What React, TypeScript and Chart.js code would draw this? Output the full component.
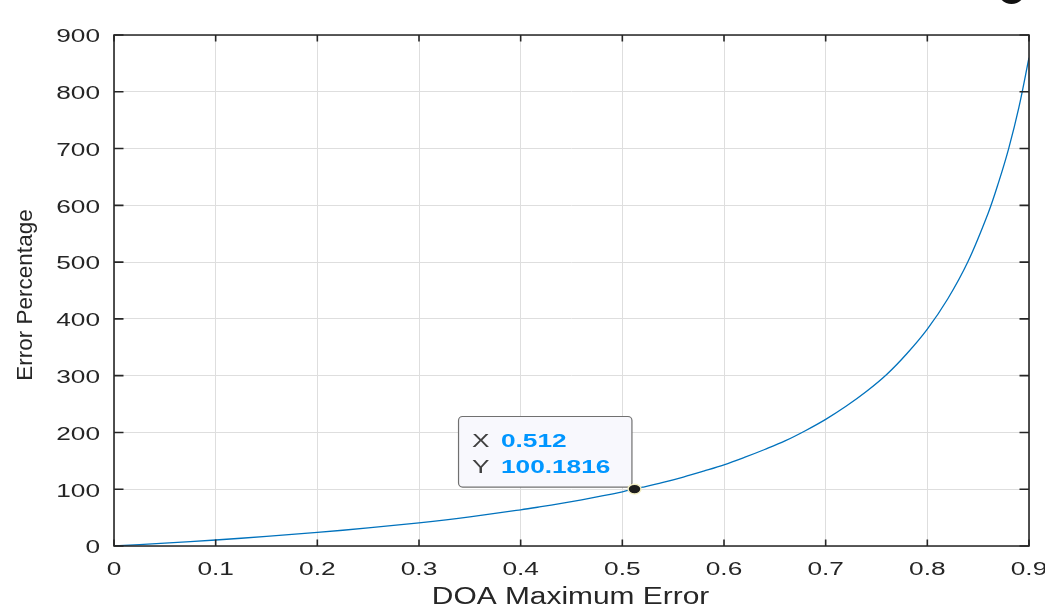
import React, { useEffect, useRef } from "react";
import { Chart, registerables } from "chart.js";

Chart.register(...registerables);

// ---- data ----
const doaError = [
  0, 0.05, 0.1, 0.15, 0.2, 0.25, 0.3, 0.35, 0.4, 0.42, 0.44, 0.46, 0.48, 0.5,
  0.52, 0.54, 0.56, 0.58, 0.6, 0.62, 0.64, 0.66, 0.68, 0.7, 0.72, 0.74, 0.76,
  0.78, 0.8, 0.82, 0.84, 0.86, 0.87, 0.88, 0.89, 0.9,
];
const errorPercentage = [
  0, 5.0, 10.6, 16.9, 23.9, 31.8, 40.9, 51.4, 63.7, 69.2, 75, 81.4, 88.2, 95.5,
  103.5, 112, 121.5, 132, 143, 156, 170, 185, 203, 223, 246, 272, 302, 339,
  382, 435, 501, 587, 640, 700, 772, 860,
];
const xTickValues = [0, 0.1, 0.2, 0.3, 0.4, 0.5, 0.6, 0.7, 0.8, 0.9];
const xTickLabels = ["0", "0.1", "0.2", "0.3", "0.4", "0.5", "0.6", "0.7", "0.8", "0.9"];
const yTickValues = [0, 100, 200, 300, 400, 500, 600, 700, 800, 900];
const yTickLabels = ["0", "100", "200", "300", "400", "500", "600", "700", "800", "900"];
const tipX = 0.512;
const tipY = 100.1816;
const tipLabelX = "0.512";
const tipLabelY = "100.1816";
const xTitle = "DOA Maximum Error";
const yTitle = "Error Percentage";

const FONT = '"Liberation Sans", Arial, Helvetica, sans-serif';
const AXIS_COLOR = "#262626";

function stretchedText(
  ctx: CanvasRenderingContext2D,
  text: string,
  x: number,
  y: number,
  sx: number,
  align: CanvasTextAlign,
  font: string,
  color: string
) {
  ctx.save();
  ctx.translate(x, y);
  ctx.scale(sx, 1);
  ctx.font = font;
  ctx.fillStyle = color;
  ctx.textAlign = align;
  ctx.textBaseline = "alphabetic";
  ctx.fillText(text, 0, 0);
  ctx.restore();
}

const decorPlugin = {
  id: "matlabDecor",
  afterDatasetsDraw(chart: any) {
    const ctx: CanvasRenderingContext2D = chart.ctx;
    const area = chart.chartArea;
    const xs = chart.scales.x;
    const ys = chart.scales.y;

    // box & inner ticks
    ctx.save();
    ctx.strokeStyle = AXIS_COLOR;
    ctx.lineWidth = 1.6;
    ctx.beginPath();
    ctx.rect(area.left, area.top, area.right - area.left, area.bottom - area.top);
    ctx.stroke();
    ctx.beginPath();
    xTickValues.forEach((v) => {
      const px = xs.getPixelForValue(v);
      ctx.moveTo(px, area.bottom);
      ctx.lineTo(px, area.bottom - 6.5);
      ctx.moveTo(px, area.top);
      ctx.lineTo(px, area.top + 6.5);
    });
    yTickValues.forEach((v) => {
      const py = ys.getPixelForValue(v);
      ctx.moveTo(area.left, py);
      ctx.lineTo(area.left + 9.5, py);
      ctx.moveTo(area.right, py);
      ctx.lineTo(area.right - 9.5, py);
    });
    ctx.stroke();
    ctx.restore();

    // data tip
    const mx = xs.getPixelForValue(tipX);
    const my = ys.getPixelForValue(tipY);
    const bw = 173.4;
    const bh = 70.6;
    const bx = mx - 2.6 - bw;
    const by = my - 2 - bh;
    ctx.save();
    ctx.beginPath();
    (ctx as any).roundRect(bx, by, bw, bh, 4);
    ctx.fillStyle = "#f8f8fd";
    ctx.fill();
    ctx.strokeStyle = "#707070";
    ctx.lineWidth = 1.2;
    ctx.stroke();
    ctx.restore();
    const tipFont = `17.5px ${FONT}`;
    const tipBold = `bold 17.5px ${FONT}`;
    stretchedText(ctx, "X", bx + 13.4, by + 30, 1.5, "left", tipFont, "#404040");
    stretchedText(ctx, "Y", bx + 13.4, by + 56, 1.5, "left", tipFont, "#404040");
    stretchedText(ctx, tipLabelX, bx + 42.4, by + 30, 1.5, "left", tipBold, "#0096ff");
    stretchedText(ctx, tipLabelY, bx + 42.4, by + 56, 1.5, "left", tipBold, "#0096ff");

    // marker
    ctx.save();
    ctx.beginPath();
    ctx.ellipse(mx, my, 6.5, 4.8, 0, 0, Math.PI * 2);
    ctx.fillStyle = "#1e1e1e";
    ctx.fill();
    ctx.strokeStyle = "#f3efc4";
    ctx.lineWidth = 1.5;
    ctx.stroke();
    ctx.restore();
  },
  afterDraw(chart: any) {
    const ctx: CanvasRenderingContext2D = chart.ctx;
    const area = chart.chartArea;
    const xs = chart.scales.x;
    const ys = chart.scales.y;
    const tickFont = `17.5px ${FONT}`;
    xTickValues.forEach((v, i) => {
      stretchedText(ctx, xTickLabels[i], xs.getPixelForValue(v), 575, 1.5, "center", tickFont, AXIS_COLOR);
    });
    yTickValues.forEach((v, i) => {
      stretchedText(ctx, yTickLabels[i], 100, ys.getPixelForValue(v) + 7.3, 1.5, "right", tickFont, AXIS_COLOR);
    });
    // x title
    stretchedText(ctx, xTitle, (area.left + area.right) / 2 - 1, 604, 1.3, "center", `23px ${FONT}`, AXIS_COLOR);
    // y title (rotated)
    ctx.save();
    ctx.translate(31.7, 295);
    ctx.rotate(-Math.PI / 2);
    ctx.font = `22.5px ${FONT}`;
    ctx.fillStyle = AXIS_COLOR;
    ctx.textAlign = "center";
    ctx.textBaseline = "alphabetic";
    ctx.fillText(yTitle, 0, 0);
    ctx.restore();

    // cropped dark glyph fragment at the top-right edge of the picture
    ctx.save();
    ctx.beginPath();
    ctx.ellipse(1011.5, -10, 14, 14, 0, 0, Math.PI * 2);
    ctx.fillStyle = "#111111";
    ctx.fill();
    ctx.restore();
  },
};

export default function App() {
  const canvasRef = useRef<HTMLCanvasElement | null>(null);

  useEffect(() => {
    const canvas = canvasRef.current;
    if (!canvas) return;
    const chart = new Chart(canvas, {
      type: "line",
      data: {
        datasets: [
          {
            data: doaError.map((x, i) => ({ x, y: errorPercentage[i] })),
            borderColor: "#0072BD",
            borderWidth: 1.3,
            pointRadius: 0,
            tension: 0.35,
            fill: false,
          },
        ],
      },
      options: {
        responsive: false,
        animation: false,
        devicePixelRatio: 1,
        layout: { padding: { top: 35, right: 16, left: 0, bottom: 0 } },
        plugins: {
          legend: { display: false },
          tooltip: { enabled: false },
          title: { display: false },
        },
        events: [],
        scales: {
          x: {
            type: "linear",
            min: 0,
            max: 0.9,
            ticks: { display: false, stepSize: 0.1 },
            grid: { color: "#dedede", lineWidth: 1, drawTicks: false },
            border: { display: false },
            afterFit: (scale: any) => {
              scale.height = 63;
            },
          },
          y: {
            type: "linear",
            min: 0,
            max: 900,
            ticks: { display: false, stepSize: 100 },
            grid: { color: "#dedede", lineWidth: 1, drawTicks: false },
            border: { display: false },
            afterFit: (scale: any) => {
              scale.width = 114;
            },
          },
        },
      } as any,
      plugins: [decorPlugin],
    });
    return () => chart.destroy();
  }, []);

  return (
    <div style={{ position: "absolute", left: 0, top: 0, width: 1045, height: 609, background: "#ffffff" }}>
      <canvas ref={canvasRef} width={1045} height={609} style={{ display: "block" }} />
    </div>
  );
}
